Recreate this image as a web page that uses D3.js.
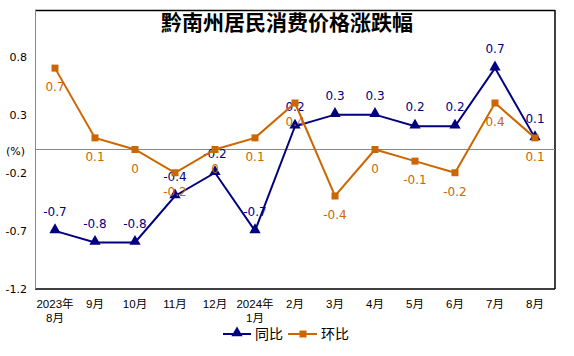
<!DOCTYPE html>
<html><head><meta charset="utf-8">
<script src="https://cdn.jsdelivr.net/npm/d3@7"></script>
<style>body{margin:0;background:#fff;} svg{display:block;}</style>
</head><body>
<svg id="c" width="574" height="356"></svg>
<script>
const categories = ["2023年\n8月","9月","10月","11月","12月","2024年\n1月","2月","3月","4月","5月","6月","7月","8月"];
const yoy = [-0.7,-0.8,-0.8,-0.4,-0.2,-0.7,0.2,0.3,0.3,0.2,0.2,0.7,0.1];
const mom = [0.7,0.1,0,-0.2,0,0.1,0.4,-0.4,0,-0.1,-0.2,0.4,0.1];
const yTicks = [0.8,0.3,-0.2,-0.7,-1.2];
const seriesNames = ["同比","环比"];
const title = "黔南州居民消费价格涨跌幅";

const navy = "#000080", orange = "#CC6600";
const svg = d3.select("#c");
const m = {l:35, r:555, t:10, b:289};
const x = d3.scaleBand().domain(categories).range([m.l, m.r]);
const y = d3.scaleLinear().domain([-1.2,1.2]).range([m.b, m.t]);
const cx = d => x(d) + x.bandwidth()/2;
const numFont = "'DejaVu Sans', sans-serif";
const cjk = "'Noto Sans CJK SC', sans-serif";
const xFont = "'Liberation Sans', 'Noto Sans CJK SC', sans-serif";

// frame
svg.append("line").attr("x1",m.l).attr("x2",m.r).attr("y1",m.t+0.5).attr("y2",m.t+0.5).attr("stroke","#000").attr("stroke-width",1.5);
svg.append("line").attr("x1",m.r).attr("x2",m.r).attr("y1",m.t).attr("y2",m.b).attr("stroke","#000").attr("stroke-width",1.5);
svg.append("line").attr("x1",m.l).attr("x2",m.r).attr("y1",m.b).attr("y2",m.b).attr("stroke","#000").attr("stroke-width",1.5);
svg.append("line").attr("x1",m.l+0.5).attr("x2",m.l+0.5).attr("y1",m.t).attr("y2",m.b).attr("stroke","#888").attr("stroke-width",1);
// zero line
svg.append("line").attr("x1",m.l).attr("x2",m.r).attr("y1",y(0)).attr("y2",y(0)).attr("stroke","#888").attr("stroke-width",1);

// title
svg.append("text").attr("x",287).attr("y",30).attr("text-anchor","middle")
  .attr("font-family",cjk).attr("font-weight","bold").attr("font-size",21).text(title);

// y ticks
svg.selectAll(".yt").data(yTicks).enter().append("text")
  .attr("x",27).attr("y",d=>y(d)+4).attr("text-anchor","end")
  .attr("font-family",numFont).attr("font-size",11).attr("fill","#000").text(d=>d);
svg.append("text").attr("x",25).attr("y",y(0)+5).attr("text-anchor","end")
  .attr("font-family",numFont).attr("font-size",11).text("(%)");

// x labels (each line its own text)
categories.forEach(c=>{
  c.split("\n").forEach((l,i)=>{
    svg.append("text").attr("x",cx(c)).attr("y",308 + i*14).attr("text-anchor","middle")
      .attr("font-family",xFont).attr("font-size",11.5).text(l);
  });
});

const line = d3.line().x((d,i)=>cx(categories[i])).y(d=>y(d));
const tri = d3.symbol().type(d3.symbolTriangle).size(55);

// yoy series
svg.append("path").datum(yoy).attr("d",line).attr("fill","none").attr("stroke",navy).attr("stroke-width",2);
svg.selectAll(".tri").data(yoy).enter().append("path").attr("d",tri)
  .attr("transform",(d,i)=>`translate(${cx(categories[i])},${y(d)-1})`).attr("fill",navy);
svg.selectAll(".yl").data(yoy).enter().append("text")
  .attr("x",(d,i)=>cx(categories[i])).attr("y",d=>y(d)-15).attr("text-anchor","middle")
  .attr("font-family",numFont).attr("font-size",12).attr("fill",navy).text(d=>d);

// mom series
svg.append("path").datum(mom).attr("d",line).attr("fill","none").attr("stroke",orange).attr("stroke-width",2);
svg.selectAll(".sq").data(mom).enter().append("rect")
  .attr("x",(d,i)=>cx(categories[i])-3.5).attr("y",d=>y(d)-3.5).attr("width",7).attr("height",7).attr("fill",orange);
svg.selectAll(".ml").data(mom).enter().append("text")
  .attr("x",(d,i)=>cx(categories[i])).attr("y",d=>y(d)+23).attr("text-anchor","middle")
  .attr("font-family",numFont).attr("font-size",12).attr("fill",orange).text(d=>d);

// legend
const lg = svg.append("g");
lg.append("line").attr("x1",223).attr("x2",251).attr("y1",334).attr("y2",334).attr("stroke",navy).attr("stroke-width",2);
lg.append("path").attr("d",tri).attr("transform","translate(237,333)").attr("fill",navy);
lg.append("text").attr("x",255).attr("y",339).attr("font-family",cjk).attr("font-size",14).text(seriesNames[0]);
lg.append("line").attr("x1",288).attr("x2",317).attr("y1",334).attr("y2",334).attr("stroke",orange).attr("stroke-width",2);
lg.append("rect").attr("x",299.5).attr("y",330.5).attr("width",7).attr("height",7).attr("fill",orange);
lg.append("text").attr("x",321).attr("y",339).attr("font-family",cjk).attr("font-size",14).text(seriesNames[1]);
</script>
</body></html>
